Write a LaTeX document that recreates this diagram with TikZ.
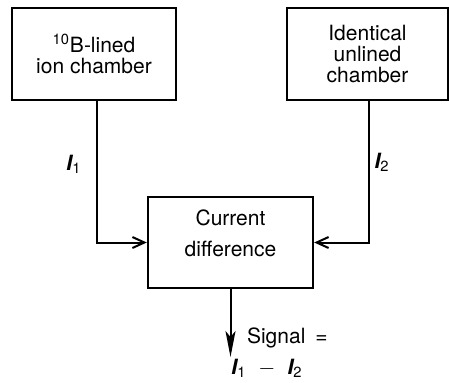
\documentclass[tikz,border=0pt]{standalone}
\usepackage{fontspec}
\setmainfont{TeX Gyre Heros}
\usetikzlibrary{arrows.meta, positioning}

\newcommand{\curr}[1]{{\bfseries\itshape I}\textsubscript{#1}}

\tikzset{
  block/.style={draw, line width=1.2pt, inner sep=0pt, align=center,
    font=\fontsize{10.5}{10.5}\selectfont},
  feed/.style={line width=1pt, -{Straight Barb[length=6pt,width=5.5pt,line width=1pt]}},
  outflow/.style={line width=1pt, -{Stealth[length=13pt,width=5pt,inset=3pt]}},
  lbl/.style={font=\fontsize{10.5}{12}\selectfont}
}

\begin{document}
\begin{tikzpicture}[x=0.5pt, y=-0.5pt]
\useasboundingbox (0,0) rectangle (449,382);

% Chambers
\node[block, minimum width=82pt, minimum height=46pt] (lined) at (94,54)
  {\textsuperscript{10}B-lined\\ion chamber};
\node[block, minimum width=80.5pt, minimum height=46pt] (unlined) at (367.5,54)
  {Identical\\unlined\\chamber};

% Current difference unit
\node[block, minimum width=82.5pt, minimum height=45.5pt] (diff) at (230.5,242.5) {};
\node[lbl, align=center] (difftext) at ([yshift=4.75pt]diff.center)
  {Current\\[3.5pt]difference};

% Feeds into the difference unit
\coordinate (ja) at (97,100);
\coordinate (jb) at (369,100);
\draw[feed] (lined.south -| ja) |- (diff.west);
\draw[feed] (unlined.south -| jb) |- (diff.east);
\node[lbl] (cura) at (74,164) {\curr{1}};
\node[lbl] (curb) at (382,162) {\curr{2}};

% Output
\coordinate (sig) at (230.5,357);
\draw[outflow] (diff.south) -- (sig);
\node[lbl, anchor=west] (siglabel) at (240,338) {Signal\hspace{5pt}=};
\node[lbl] (sigdiff) at (267,368) {\curr{1}\hspace{6pt}$-$\hspace{6pt}\curr{2}};
\end{tikzpicture}
\end{document}
